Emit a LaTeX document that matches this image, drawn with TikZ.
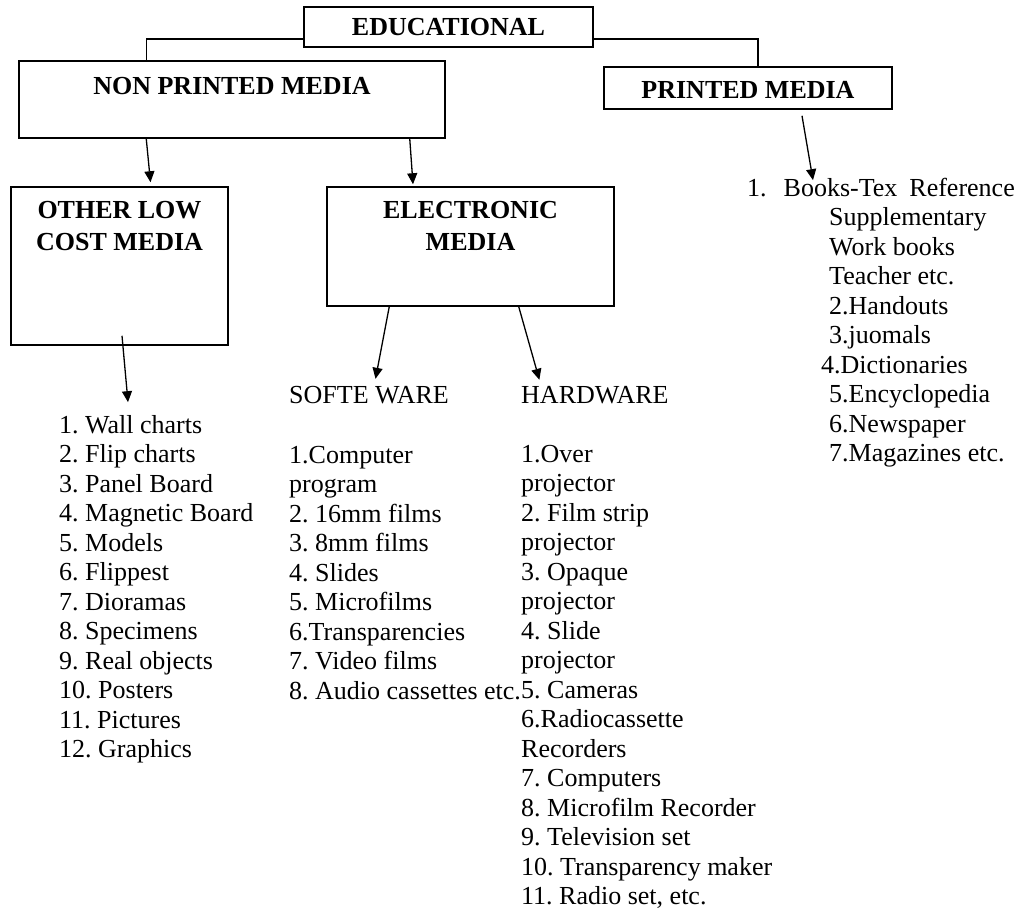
\documentclass[tikz,border=0pt]{standalone}
\usepackage{fontspec}
\setmainfont{Liberation Serif}
\usetikzlibrary{arrows.meta}
\frenchspacing
\begin{document}
\begin{tikzpicture}[x=1pt,y=-1pt,
  boxst/.style={draw=black, line width=1.5pt, inner sep=0pt, anchor=base, font=\fontsize{26}{32}\selectfont\bfseries},
  lbl/.style={inner sep=0pt, anchor=base west, text height=18pt, text depth=6pt, font=\fontsize{26}{29.5}\selectfont},
  lst/.style={inner sep=0pt, anchor=base west, font=\fontsize{26}{29.5}\selectfont},
  conn/.style={line width=1.3pt},
  arr/.style={line width=1.3pt, -{Triangle[length=11pt,width=10pt]}}]
\useasboundingbox (0,0) rectangle (1025,914);
% boxes
\node[boxst, minimum width=289pt, text height=28pt, text depth=12pt] (edu) at (448.5,35) {EDUCATIONAL};
\node[boxst, minimum width=426pt, text height=33pt, text depth=44pt] (npm) at (232,94) {NON PRINTED MEDIA};
\node[boxst, minimum width=288pt, text height=31pt, text depth=11pt] (pm) at (748,98) {PRINTED MEDIA};
\node[boxst, minimum width=217pt, text height=31pt, text depth=127pt] (olcm) at (119.5,218) {\begin{tabular}[t]{@{}c@{}}OTHER LOW\\COST MEDIA\end{tabular}};
\node[boxst, minimum width=287pt, text height=31pt, text depth=88pt] (em) at (470.5,218) {\begin{tabular}[t]{@{}c@{}}ELECTRONIC\\MEDIA\end{tabular}};
% labels and lists
\node[lbl] (sw) at (289,403) {SOFTE WARE};
\node[lbl] (hw) at (521,403) {HARDWARE};
\node[lst] (ol) at (59,433) {\begin{tabular}[t]{@{}l@{}}
1. Wall charts\\
2. Flip charts\\
3. Panel Board\\
4. Magnetic Board\\
5. Models\\
6. Flippest\\
7. Dioramas\\
8. Specimens\\
9. Real objects\\
10. Posters\\
11. Pictures\\
12. Graphics\end{tabular}};
\node[lst] (swl) at (289,463) {\begin{tabular}[t]{@{}l@{}}
1.Computer\\
program\\
2. 16mm films\\
3. 8mm films\\
4. Slides\\
5. Microfilms\\
6.Transparencies\\
7. Video films\\
8. Audio cassettes etc.\end{tabular}};
\node[lst] (hwl) at (521,462) {\begin{tabular}[t]{@{}l@{}}
1.Over\\
projector\\
2. Film strip\\
projector\\
3. Opaque\\
projector\\
4. Slide\\
projector\\
5. Cameras\\
6.Radiocassette\\
Recorders\\
7. Computers\\
8. Microfilm Recorder\\
9. Television set\\
10. Transparency maker\\
11. Radio set, etc.\end{tabular}};
\node[lst] (pml) at (747,196) {\begin{tabular}[t]{@{}l@{}}
1.\hspace{17pt}Books-Tex\hspace{12pt}Reference\\
\hspace{82pt}Supplementary\\
\hspace{82pt}Work books\\
\hspace{82pt}Teacher etc.\\
\hspace{82pt}2.Handouts\\
\hspace{82pt}3.juomals\\
\hspace{74pt}4.Dictionaries\\
\hspace{82pt}5.Encyclopedia\\
\hspace{82pt}6.Newspaper\\
\hspace{82pt}7.Magazines etc.\end{tabular}};
% connectors
\draw[conn] ([yshift=-12pt]edu.west) -| ([xshift=128pt]npm.north west);
\draw[conn] ([yshift=-12pt]edu.east) -| ([xshift=10pt]pm.north);
\draw[arr] ([xshift=128pt]npm.south west) -- ([xshift=31pt,yshift=4pt]olcm.north);
\draw[arr] ([xshift=-36pt]npm.south east) -- ([xshift=-57.5pt,yshift=2pt]em.north);
\draw[arr] ([xshift=2.5pt,yshift=10pt]olcm.south) -- ([xshift=69pt,yshift=10pt]ol.north west);
\draw[arr] ([xshift=63pt]em.south west) -- ([xshift=6.5pt,yshift=6pt]sw.north);
\draw[arr] ([xshift=-96pt]em.south east) -- ([xshift=-55.5pt,yshift=5pt]hw.north);
\draw[arr] ([xshift=54pt,yshift=-6pt]pm.south) -- ([xshift=66pt,yshift=-5pt]pml.north west);
\end{tikzpicture}
\end{document}
